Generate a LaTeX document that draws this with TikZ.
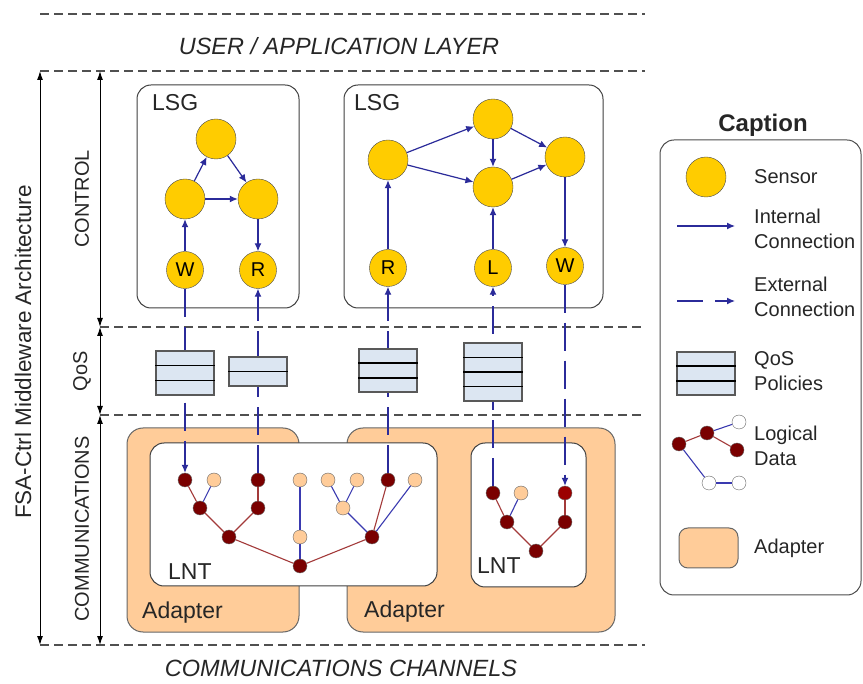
\documentclass[tikz,border=0pt]{standalone}
\usepackage{fontspec}
\setmainfont{Liberation Sans}
\usetikzlibrary{arrows.meta,positioning,calc}
\definecolor{SensorColor}{HTML}{FFCC00}
\definecolor{LinkColor}{HTML}{2B2B9A}
\definecolor{DataRed}{HTML}{7A0000}
\definecolor{DataLight}{HTML}{FFCC99}
\definecolor{EdgeRed}{HTML}{A33A3A}
\definecolor{EdgeBlue}{HTML}{3A3AB0}
\definecolor{QosFill}{HTML}{DCE6F2}
\definecolor{AdapterFill}{HTML}{FFCC99}
\definecolor{LayerGrey}{HTML}{505050}

\begin{document}
\begin{tikzpicture}[x=1pt,y=-1pt,
  layer/.style={LayerGrey,line width=1.4pt,dash pattern=on 9pt off 5pt},
  span/.style={black,line width=1pt,{Latex[length=9pt,width=6pt]}-{Latex[length=9pt,width=6pt]}},
  panel/.style={draw=black!75,line width=1pt,rounded corners=14pt,fill=white},
  adapter/.style={draw=black!60,line width=1pt,rounded corners=16pt,fill=AdapterFill},
  sensor/.style={circle,draw=black!70,fill=SensorColor,minimum size=40pt,inner sep=0pt,font=\fontsize{20}{20}\selectfont},
  port/.style={sensor,minimum size=37pt},
  dark/.style={circle,draw=black!60,fill=DataRed,minimum size=14pt,inner sep=0pt},
  light/.style={dark,fill=DataLight},
  hollow/.style={dark,fill=white},
  int/.style={LinkColor,line width=1.2pt,-{Latex[length=8pt,width=7pt]}},
  ext/.style={int,dash pattern=on 28pt off 10pt},
  redlink/.style={EdgeRed,line width=1.1pt},
  bluelink/.style={EdgeBlue,line width=1.1pt},
  qos/.style={draw=black!65,line width=1.5pt,fill=QosFill,minimum width=58pt,inner sep=0pt},
  boxlbl/.style={inner sep=0pt,text=black!85,font=\fontsize{23}{23}\selectfont},
  layerlbl/.style={text=black!85,font=\fontsize{23.5}{23.5}\selectfont\itshape},
  sidelbl/.style={rotate=90,text=black!85,font=\fontsize{20}{20}\selectfont},
  legtext/.style={anchor=west,inner sep=0pt,align=left,text=black!85,font=\fontsize{20}{25}\selectfont}]
  \useasboundingbox (0,0) rectangle (863,684);

  % layer boundaries
  \draw[layer] (40,14) -- (645,14);
  \draw[layer] (40,71) -- (645,71);
  \draw[layer] (100,327) -- (645,327);
  \draw[layer] (100,415) -- (645,415);
  \draw[layer] (40,645) -- (645,645);
  \node[layerlbl] (userlbl) at (339,46) {USER / APPLICATION LAYER};
  \node[layerlbl] (chanlbl) at (341,668) {COMMUNICATIONS CHANNELS};

  % spans on the left
  \coordinate (archtop) at (40,71);
  \coordinate (archbot) at (40,645);
  \coordinate (ctltop) at (100,71);
  \coordinate (ctlbot) at (100,327);
  \coordinate (qosbot) at (100,415);
  \coordinate (combot) at (100,645);
  \draw[span] (archtop) -- (archbot);
  \draw[span] (ctltop) -- (ctlbot);
  \draw[span] (ctlbot) -- (qosbot);
  \draw[span] (qosbot) -- (combot);
  \node[sidelbl,font=\fontsize{22.5}{22.5}\selectfont] (archlbl) at (23,352) {FSA-Ctrl Middleware Architecture};
  \node[sidelbl] (ctllbl) at (82,199) {CONTROL};
  \node[sidelbl] (qoslbl) at (82,371) {QoS};
  \node[sidelbl] (comlbl) at (82,529) {COMMUNICATIONS};

  % adapters and LNT
  \draw[adapter] (127,428) rectangle (299,632);
  \draw[adapter] (347,428) rectangle (615,632);
  \draw[panel] (150,443) rectangle (437,586);
  \draw[panel] (471,443) rectangle (586,587);
  \node[boxlbl,anchor=west] (adpAlbl) at (142,613) {Adapter};
  \node[boxlbl,anchor=west] (adpBlbl) at (364,612) {Adapter};
  \node[boxlbl,anchor=west] (lntAlbl) at (168,572) {LNT};
  \node[boxlbl,anchor=west] (lntBlbl) at (477,566) {LNT};

  % LSG
  \draw[panel] (137,85) rectangle (299,308);
  \draw[panel] (344,85) rectangle (603,308);
  \node[boxlbl,anchor=west] (lsgAlbl) at (152,103) {LSG};
  \node[boxlbl,anchor=west] (lsgBlbl) at (354,103) {LSG};

  \node[sensor] (sa) at (216,139) {};
  \node[sensor] (sb) at (185,199) {};
  \node[sensor] (sc) at (258,199) {};
  \node[port] (wa) at (185,270) {W};
  \node[port] (ra) at (258,270) {R};
  \draw[int] (sb) -- (sa);
  \draw[int] (sa) -- (sc);
  \draw[int] (sb) -- (sc);
  \draw[int] (wa) -- (sb);
  \draw[int] (sc) -- (ra);

  \node[sensor] (sd) at (388,160) {};
  \node[sensor] (se) at (493,119) {};
  \node[sensor] (sf) at (493,187) {};
  \node[sensor] (sg) at (565,157) {};
  \node[port] (rb) at (388,268) {R};
  \node[port] (lb) at (493,268) {L};
  \node[port] (wb) at (565,266) {W};
  \draw[int] (sd) -- (se);
  \draw[int] (sd) -- (sf);
  \draw[int] (se) -- (sf);
  \draw[int] (se) -- (sg);
  \draw[int] (sf) -- (sg);
  \draw[int] (rb) -- (sd);
  \draw[int] (lb) -- (sf);
  \draw[int] (sg) -- (wb);

  % logical data trees
  \foreach \nm/\st/\px/\py in {ta/dark/185/480, tb/light/214/480, tc/dark/258/480, td/light/300/480,
      te/light/328/480, tf/light/357/480, tg/dark/388/480, th/light/415/480,
      ma/dark/200/508, mb/dark/258/508, mc/light/343/508,
      pa/dark/229/537, pb/light/300/537, pc/dark/372/537, rt/dark/300/566,
      ua/dark/493/493, ub/light/521/493, va/dark/507/522, vb/dark/565/522, rtb/dark/536/551}
    \node[\st] (\nm) at (\px,\py) {};
  \node[dark,fill=DataRed!75!red] (uc) at (565,493) {};
  \foreach \a/\b in {ta/ma, ma/pa, tc/mb, mb/pa, pa/rt, tg/pc, pc/rt, ua/va, va/rtb, uc/vb, vb/rtb}
    \draw[redlink] (\a) -- (\b);
  \foreach \a/\b in {tb/ma, td/pb, pb/rt, te/mc, tf/mc, mc/pc, th/pc, ub/va}
    \draw[bluelink] (\a) -- (\b);

  % external connections
  \draw[ext] (wa) -- (ta);
  \draw[ext] (tc) -- (ra);
  \draw[ext] (tg) -- (rb);
  \draw[ext] (ua) -- (lb);
  \draw[ext] (wb) -- (uc);

  % QoS policies (last one is in the caption)
  \foreach \nm/\cx/\cy/\h/\r in {qa/185/373/44/3, qb/258/371.5/29/2, qc/388/370.5/43/3, qd/493/372/58/4, qleg/706/373.5/43/3}{
    \node[qos,minimum height=\h pt] (\nm) at (\cx,\cy) {};
    \pgfmathtruncatemacro\rr{\r-1}
    \foreach \k in {1,...,\rr}
      \draw[black,line width=1.2pt] ($(\nm.north west)!\k/\r!(\nm.south west)$) -- ($(\nm.north east)!\k/\r!(\nm.south east)$);
  }

  % caption
  \node[text=black!85,font=\fontsize{24}{24}\selectfont\bfseries] (captlbl) at (763,125) {Caption};
  \draw[panel,draw=black!70,fill=none] (660,140) rectangle (861,595);
  \node[sensor] (legsensor) at (706,177) {};
  \node[legtext] (legsensorlbl) at (754,177) {Sensor};
  \coordinate (intA) at (677,226);
  \coordinate (intB) at (735,226);
  \draw[int] (intA) -- (intB);
  \node[legtext] (legintlbl) at (754,229) {Internal\\Connection};
  \coordinate (extA) at (677,301);
  \coordinate (extB) at (735,301);
  \draw[int,dash pattern=on 26pt off 12pt] (extA) -- (extB);
  \node[legtext] (legextlbl) at (754,297) {External\\Connection};
  \node[legtext] (legqoslbl) at (754,371) {QoS\\Policies};
  \node[dark] (lroot) at (679,444) {};
  \node[dark] (la) at (707,433) {};
  \node[hollow] (lb1) at (739,422) {};
  \node[dark] (lc) at (737,450) {};
  \node[hollow] (ld) at (709,483) {};
  \node[hollow] (le) at (739,483) {};
  \draw[redlink] (lroot) -- (la);
  \draw[redlink] (la) -- (lc);
  \draw[bluelink] (la) -- (lb1);
  \draw[bluelink] (lroot) -- (ld);
  \draw[bluelink] (ld) -- (le);
  \node[legtext] (legdatalbl) at (754,446) {Logical\\Data};
  \draw[adapter,rounded corners=9pt] (679,528) rectangle (738,568);
  \node[legtext] (legadplbl) at (754,548) {Adapter};
\end{tikzpicture}
\end{document}
